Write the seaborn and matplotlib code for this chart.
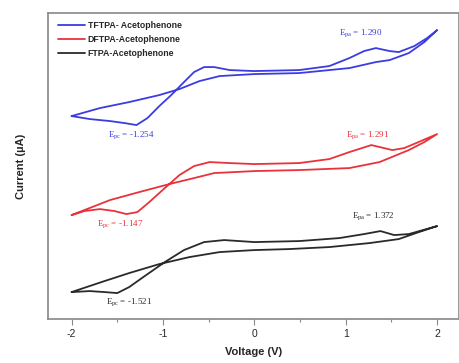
import numpy as np
import pandas as pd
import matplotlib
matplotlib.use("Agg")
import matplotlib.pyplot as plt
import seaborn as sns

# ---- data (voltage in V, current in arbitrary offset units) ----
tftpa_v = [-2.0, -1.80, -1.58, -1.42, -1.29, -1.17, -1.04, -0.91, -0.77, -0.66, -0.55, -0.44, -0.27, 0.0,
           0.49, 0.82, 1.04, 1.20, 1.33, 1.48, 1.58, 1.75, 1.89, 2.0,
           1.86, 1.69, 1.48, 1.33, 1.04, 0.49, 0.0, -0.38, -0.60, -0.82, -1.04, -1.37, -1.69, -2.0]
tftpa_i = [20.3, 20.0, 19.8, 19.6, 19.4, 20.1, 21.3, 22.4, 23.7, 24.7, 25.2, 25.2, 24.9, 24.8,
           24.9, 25.3, 26.1, 26.8, 27.1, 26.8, 26.7, 27.3, 28.1, 28.9,
           27.7, 26.6, 25.9, 25.7, 25.1, 24.6, 24.5, 24.3, 23.8, 23.0, 22.4, 21.7, 21.1, 20.3]

dftpa_v = [-2.0, -1.86, -1.69, -1.53, -1.40, -1.28, -1.15, -0.98, -0.82, -0.66, -0.49, -0.27, 0.0,
           0.49, 0.82, 1.04, 1.28, 1.51, 1.64, 1.77, 2.0,
           1.86, 1.69, 1.37, 1.04, 0.49, 0.0, -0.44, -0.66, -0.93, -1.26, -1.58, -2.0]
dftpa_i = [10.4, 10.8, 11.0, 10.8, 10.5, 10.7, 11.7, 13.1, 14.4, 15.3, 15.7, 15.6, 15.5,
           15.6, 16.0, 16.7, 17.4, 16.9, 17.1, 17.6, 18.5,
           17.7, 16.9, 15.7, 15.1, 14.9, 14.8, 14.6, 14.1, 13.5, 12.7, 11.9, 10.4]

ftpa_v = [-2.0, -1.80, -1.64, -1.50, -1.37, -1.20, -0.98, -0.77, -0.55, -0.33, 0.0,
          0.49, 0.93, 1.20, 1.38, 1.53, 1.69, 2.0,
          1.80, 1.58, 1.26, 0.82, 0.38, 0.0, -0.38, -0.71, -1.04, -1.37, -1.64, -2.0]
ftpa_i = [2.7, 2.8, 2.7, 2.6, 3.2, 4.3, 5.7, 6.9, 7.7, 7.9, 7.7,
          7.8, 8.1, 8.5, 8.8, 8.4, 8.5, 9.3,
          8.7, 8.0, 7.6, 7.2, 7.0, 6.9, 6.7, 6.2, 5.5, 4.6, 3.8, 2.7]

names = ["TFTPA- Acetophenone", "DFTPA-Acetophenone", "FTPA-Acetophenone"]
colors = ["#3c3ce0", "#e8333b", "#2a2a2a"]

# peak annotations: (text, V, I)
ann_text = [r"E$_{\mathregular{pa}}$ = 1.290", r"E$_{\mathregular{pc}}$ = -1.254",
            r"E$_{\mathregular{pa}}$ = 1.291", r"E$_{\mathregular{pc}}$ = -1.147",
            r"E$_{\mathregular{pa}}$ = 1.372", r"E$_{\mathregular{pc}}$ = -1.521"]
ann_v = [0.93, -1.60, 1.0, -1.72, 1.07, -1.62]
ann_i = [28.6, 18.4, 18.4, 9.5, 10.3, 1.7]
ann_col = [0, 0, 1, 1, 2, 2]

frames = []
for n, v, i in zip(names, [tftpa_v, dftpa_v, ftpa_v], [tftpa_i, dftpa_i, ftpa_i]):
    frames.append(pd.DataFrame({"Voltage": v, "Current": i, "Sample": n, "order": np.arange(len(v))}))
df = pd.concat(frames, ignore_index=True)

sns.set_style("white")
plt.rcParams["font.family"] = ["Liberation Sans", "DejaVu Sans"]
plt.rcParams["mathtext.fontset"] = "custom"
plt.rcParams["mathtext.rm"] = "Liberation Serif"
plt.rcParams["mathtext.it"] = "Liberation Serif"

fig = plt.figure(figsize=(4.6, 3.63), dpi=100)
ax = fig.add_axes([0.104, 0.121, 0.894, 0.843])

sns.lineplot(data=df, x="Voltage", y="Current", hue="Sample", units="Sample",
             sort=False, estimator=None, palette=dict(zip(names, colors)),
             linewidth=1.3, ax=ax, legend=False)

for t, v, i, c in zip(ann_text, ann_v, ann_i, ann_col):
    ax.text(v, i, t, color=colors[c], fontsize=6.5, family="Liberation Serif",
            ha="left", va="center")

# legend
from matplotlib.lines import Line2D
handles = [Line2D([0], [0], color=c, lw=1.3) for c in colors]
leg = ax.legend(handles, names, loc="upper left", bbox_to_anchor=(0.012, 0.99),
                frameon=False, fontsize=6.3, handlelength=3.1, labelspacing=0.55,
                handletextpad=0.3, borderaxespad=0.2)
for t in leg.get_texts():
    t.set_fontweight("bold")

ax.set_xlim(-2.26, 2.24)
ax.set_ylim(0, 30.6)
ax.set_xticks([-2, -1, 0, 1, 2])
ax.set_xticks([-1.5, -0.5, 0.5, 1.5], minor=True)
ax.set_xticklabels(["-2", "-1", "0", "1", "2"], fontsize=7.5)
ax.set_yticks([])
ax.tick_params(axis="x", which="major", direction="out", length=4, width=0.8,
               color="#888888", bottom=True, pad=3)
ax.tick_params(axis="x", which="minor", direction="out", length=2.5, width=0.8,
               color="#888888", bottom=True)
for s in ax.spines.values():
    s.set_color("#888888")
    s.set_linewidth(1.2)

ax.set_xlabel("Voltage (V)", fontsize=8, fontweight="bold", labelpad=6)
ax.set_ylabel("Current (µA)", fontsize=8, fontweight="bold", labelpad=16)

fig.savefig("out.png", dpi=100)
